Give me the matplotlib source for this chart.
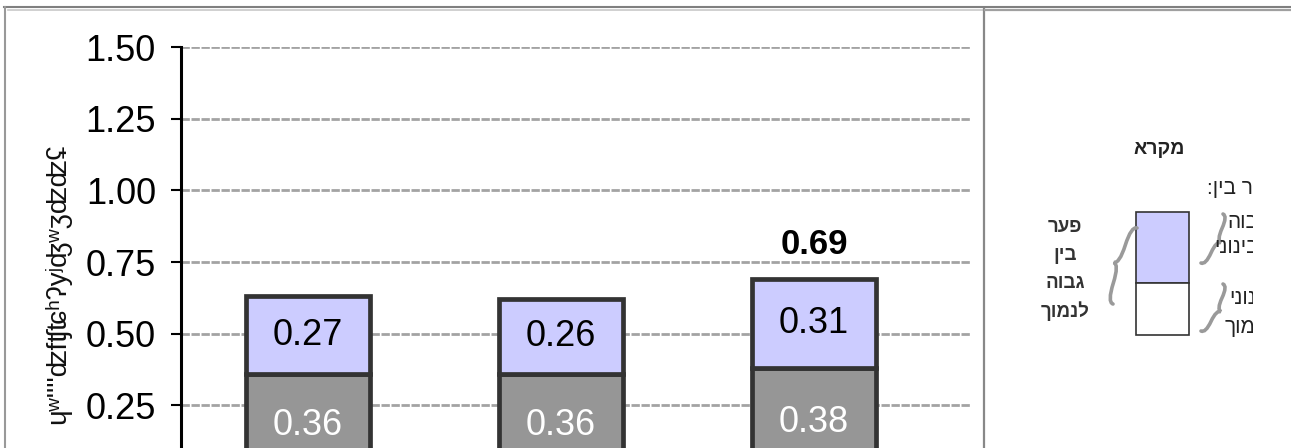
import matplotlib
matplotlib.use("Agg")
import numpy as np
import matplotlib.pyplot as plt
from matplotlib.path import Path
from matplotlib.patches import PathPatch, Rectangle
from matplotlib.transforms import Bbox, TransformedBbox

# chart values (x categories are cut off in the reference)
low_vals = [0.36, 0.36, 0.38]     # grey segment
gap_vals = [0.27, 0.26, 0.31]     # lavender segment (gap high - medium)
show_total = [False, False, True]
y_ticks = [0.25, 0.50, 0.75, 1.00, 1.25, 1.50]

# texts
y_label = "ɥʷ''''ʣfʧʨʰʔyʲʤʷʒʣʣʢ"
legend_title = "מקרא"
gap_lines = ["פער", "בין", "גבוה", "לנמוך"]
side_lines = ["פער בין:", "גבוה", "לבינוני", "בינוני", "לנמוך"]

FONT = ["Liberation Sans", "DejaVu Sans"]
plt.rcParams["font.family"] = FONT


def vis(s):
    # matplotlib has no bidi support: flip hebrew to visual order
    return s[::-1]


W, H = 1291, 448
fig = plt.figure(figsize=(W / 100, H / 100), dpi=100)
fig.patch.set_facecolor("white")

# main axes, placed in pixel terms (y=0 sits below the visible area)
ax = fig.add_axes([181 / W, (H - 477) / H, (970 - 181) / W, (477 - 47) / H])
x = np.arange(len(low_vals))
ax.bar(x, low_vals, width=0.49, color="#969696", edgecolor="#333333",
       linewidth=3.4, zorder=3)
ax.bar(x, gap_vals, bottom=low_vals, width=0.49, color="#ccccff",
       edgecolor="#333333", linewidth=3.4, zorder=3)

for i in range(len(x)):
    lo, gp = low_vals[i], gap_vals[i]
    ax.text(x[i], lo / 2, f"{lo:.2f}", ha="center", va="center",
            color="white", fontsize=26, zorder=4)
    ax.text(x[i], lo + gp / 2, f"{gp:.2f}", ha="center", va="center",
            color="black", fontsize=26, zorder=4)
    if show_total[i]:
        ax.annotate(f"{lo + gp:.2f}", (x[i], lo + gp), xytext=(0, 25),
                    textcoords="offset points", ha="center", va="center",
                    fontsize=25, fontweight="bold", zorder=4)

ax.set_xlim(-0.502, 2.617)
ax.set_ylim(0, 1.5)
ax.set_xticks([])
ax.set_yticks(y_ticks)
ax.set_yticklabels([f"{v:.2f}" for v in y_ticks])
ax.tick_params(axis="y", length=7, width=1.5, pad=11, labelsize=26,
               direction="out", colors="black")
for s in ["top", "right", "bottom"]:
    ax.spines[s].set_visible(False)
ax.spines["left"].set_linewidth(2.2)
ax.spines["left"].set_color("black")
ax.yaxis.grid(True, color="#a3a3a3", linewidth=2, linestyle=(0, (3.0, 0.6)))
ax.set_axisbelow(True)
ax.set_facecolor("none")

# overlay in pixel coords for frame, y label and legend panel
ov = fig.add_axes([0, 0, 1, 1], zorder=5)
ov.set_xlim(0, W)
ov.set_ylim(H, 0)
ov.axis("off")
ov.patch.set_visible(False)

ov.plot([4, W], [7, 7], color="#808080", lw=1.5)
ov.plot([5, 5], [7, H], color="#999999", lw=1.5)
ov.plot([8, 983], [10, 10], color="#c8c8c8", lw=1.2)
ov.plot([984, 984], [9, H], color="#888888", lw=1.6)
ov.plot([985, W], [10, 10], color="#a0a0a0", lw=1.6)

ov.text(58, 284, y_label, rotation=90, ha="center", va="center",
        fontsize=20, color="#111111", family=FONT)

# legend panel
ov.text(1159, 149, vis(legend_title), ha="center", va="center", fontsize=14,
        fontweight="bold", color="#222222")
for k, t in enumerate(gap_lines):
    ov.text(1065, 228 + k * 27.7, vis(t), ha="center", va="center",
            fontsize=13.5, fontweight="bold", color="#333333")

ov.add_patch(Rectangle((1136, 212), 53, 71, facecolor="#ccccff",
                       edgecolor="#333333", lw=1.2))
ov.add_patch(Rectangle((1136, 283), 53, 52, facecolor="white",
                       edgecolor="#333333", lw=1.2))

# side texts run past the panel edge and are cut at x=1253
side_y = [188, 222, 247, 298, 326]
side_x = [1207, 1227, 1214, 1229, 1225]
clip = TransformedBbox(Bbox([[0, 0], [1253, H]]), ov.transData)
for t, yy, xx in zip(side_lines, side_y, side_x):
    tx = ov.text(xx, yy, vis(t), ha="left", va="center", fontsize=15,
                 color="#222222")
    tx.set_clip_box(clip)
    tx.set_clip_on(True)


def brace(p0, p1, depth, right):
    p0, p1 = np.array(p0, float), np.array(p1, float)
    d = p1 - p0
    n = np.array([d[1], -d[0]]) / np.hypot(*d)
    if (n[0] > 0) != right:
        n = -n
    m = p0 + d * 0.5
    verts = [p0, p0 + n * depth, p0 + d * 0.25 + n * depth,
             m + n * depth, m + n * 2 * depth,
             m + n * depth, p0 + d * 0.75 + n * depth,
             p1 + n * depth, p1]
    codes = [Path.MOVETO] + [Path.CURVE3] * 8
    ov.add_patch(PathPatch(Path(verts, codes), fill=False,
                           edgecolor="#9a9a9a", lw=2.6, capstyle="round"))


brace((1137, 228), (1113, 304), 6, right=False)
brace((1223, 214), (1201, 263), 5, right=True)
brace((1223, 284), (1201, 331), 5, right=True)

fig.savefig("out.png", dpi=100)
